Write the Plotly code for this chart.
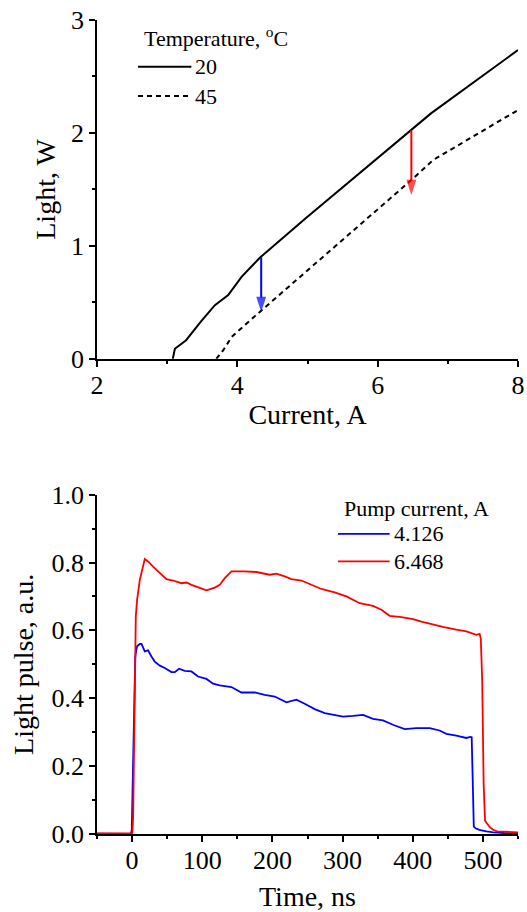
import plotly.graph_objects as go

# ---------------- Top panel: light vs current ----------------
current_20 = [3.08, 3.11, 3.27, 3.48, 3.68, 3.87, 4.06, 4.32, 4.97, 6.48, 6.76, 8.0]
light_20 = [0.0, 0.09, 0.165, 0.33, 0.475, 0.564, 0.726, 0.895, 1.243, 2.025, 2.173, 2.734]
current_45 = [3.70, 3.80, 3.92, 4.32, 6.48, 6.79, 8.0]
light_45 = [0.0, 0.077, 0.195, 0.416, 1.583, 1.76, 2.203]
temp_title = "Temperature, <sup>o</sup>C"
temp_labels = ["20", "45"]

arrow_x = [4.34, 6.48]
arrow_from = [0.90, 2.025]
arrow_to = [0.415, 1.45]
arrow_colors = ["#0000ff", "#ff0000"]

# ---------------- Bottom panel: light pulse vs time ----------------
time_blue = [-50, -30, -10, -2, -0.5, 1.4, 3.0, 4.5, 5.3, 7.1, 11.0, 13.4, 18.1, 22.8, 27.6, 32.3,
             39.5, 46.6, 56.1, 60.8, 67.0, 75.1, 84.6, 94.0, 106.0, 115.4, 124.9, 136.8,
             141.6, 155.8, 174.8, 189.0, 203.3, 219.9, 234.2, 246.0, 260.3, 274.5, 288.7,
             300.6, 314.8, 329.1, 343.3, 357.5, 371.8, 388.5, 405.1, 424.1, 438.3, 447.9,
             462.1, 476.4, 482.0, 484.0, 485.0, 486.0, 487.0, 490.0, 495.0, 505.0, 515.0,
             530.0, 550.0]
pulse_blue = [0.001, 0.0, 0.001, 0.0, 0.01, 0.25, 0.45, 0.52, 0.533, 0.553, 0.560, 0.560, 0.538,
              0.541, 0.523, 0.508, 0.496, 0.489, 0.477, 0.477, 0.487, 0.481, 0.479, 0.464,
              0.457, 0.443, 0.438, 0.435, 0.433, 0.417, 0.417, 0.410, 0.405, 0.388, 0.396,
              0.384, 0.368, 0.356, 0.351, 0.346, 0.348, 0.351, 0.339, 0.335, 0.322, 0.309,
              0.312, 0.312, 0.305, 0.295, 0.290, 0.283, 0.286, 0.285, 0.20, 0.05, 0.022,
              0.016, 0.012, 0.008, 0.005, 0.003, 0.002]

time_red = [-50, -30, -10, 0.0, 0.5, 1.5, 3.1, 4.3, 5.3, 7.1, 11.0, 18.1, 22.8, 29.9, 39.5, 49.0,
            58.4, 70.4, 77.5, 84.6, 96.4, 106.0, 117.8, 124.9, 132.1, 141.6, 160.5, 177.2,
            196.2, 205.7, 217.5, 227.1, 241.3, 255.6, 269.8, 288.7, 305.4, 324.4, 343.3,
            355.3, 367.1, 383.8, 400.3, 412.3, 424.1, 443.0, 462.1, 476.4, 490.6, 495.3,
            497.0, 499.0, 501.0, 503.0, 505.0, 510.0, 515.0, 520.0, 530.0, 540.0, 550.0]
pulse_red = [0.002, 0.001, 0.002, 0.002, 0.003, 0.05, 0.248, 0.50, 0.641, 0.690, 0.749, 0.810,
             0.803, 0.788, 0.769, 0.751, 0.747, 0.739, 0.741, 0.734, 0.725, 0.718, 0.726,
             0.734, 0.754, 0.774, 0.774, 0.772, 0.764, 0.767, 0.759, 0.751, 0.747, 0.734,
             0.722, 0.712, 0.700, 0.680, 0.672, 0.661, 0.643, 0.639, 0.633, 0.626, 0.619,
             0.610, 0.602, 0.597, 0.587, 0.590, 0.575, 0.45, 0.15, 0.04, 0.033, 0.02, 0.012,
             0.008, 0.007, 0.006, 0.005]
pump_title = "Pump current, A"
pump_labels = ["4.126", "6.468"]

FONT = "Liberation Serif"
BLACK = "black"

fig = go.Figure()

fig.add_trace(go.Scatter(x=current_20, y=light_20, mode="lines", name=temp_labels[0],
                         line=dict(color=BLACK, width=2), xaxis="x", yaxis="y"))
fig.add_trace(go.Scatter(x=current_45, y=light_45, mode="lines", name=temp_labels[1],
                         line=dict(color=BLACK, width=2, dash="5px,4px"), xaxis="x", yaxis="y"))

fig.add_trace(go.Scatter(x=time_blue, y=pulse_blue, mode="lines", name=pump_labels[0],
                         line=dict(color="#0000ff", width=1.8), xaxis="x2", yaxis="y2"))
fig.add_trace(go.Scatter(x=time_red, y=pulse_red, mode="lines", name=pump_labels[1],
                         line=dict(color="#ff0000", width=1.8), xaxis="x2", yaxis="y2"))

# Temperature-drop arrows
for xa, y0, y1, c in zip(arrow_x, arrow_from, arrow_to, arrow_colors):
    fig.add_trace(go.Scatter(x=[xa, xa], y=[y0, y1], mode="lines+markers",
                             line=dict(color=c, width=2),
                             marker=dict(symbol="arrow", angleref="previous", size=[0, 16],
                                         color=c, line=dict(width=0)),
                             xaxis="x", yaxis="y", hoverinfo="skip"))

# ---------------- Legends (drawn as keys + real text) ----------------
def legend_block(title, labels, styles, x_left, key_len, y_title, y_rows):
    fig.add_annotation(xref="paper", yref="paper", x=x_left + 0.009, y=y_title, text=title,
                       showarrow=False, xanchor="left", yanchor="middle",
                       font=dict(family=FONT, size=22, color=BLACK))
    for lab, st, yy in zip(labels, styles, y_rows):
        fig.add_shape(type="line", xref="paper", yref="paper", x0=x_left, x1=x_left + key_len,
                      y0=yy, y1=yy, line=st)
        fig.add_annotation(xref="paper", yref="paper", x=x_left + key_len + 0.005, y=yy,
                           text=lab, showarrow=False, xanchor="left", yanchor="middle",
                           font=dict(family=FONT, size=22, color=BLACK))

legend_block(temp_title, temp_labels,
             [dict(color=BLACK, width=2), dict(color=BLACK, width=2, dash="5px,4px")],
             0.0974, 0.1268, 0.979, [0.9426, 0.9066])
legend_block(pump_title, pump_labels,
             [dict(color="#0000ff", width=1.8), dict(color="#ff0000", width=1.8)],
             0.5723, 0.1228, 0.4001, [0.3688, 0.3348])

axis_common = dict(showgrid=False, zeroline=False, showline=True, linecolor=BLACK,
                   linewidth=1.5, ticks="outside", ticklen=6, tickwidth=1.5, tickcolor=BLACK,
                   automargin=False,
                   tickfont=dict(family=FONT, size=26, color=BLACK))
minor_common = dict(ticklen=3, tickwidth=1.5, ticks="outside", tickcolor=BLACK, showgrid=False)

fig.update_layout(
    width=527, height=912, autosize=False,
    margin=dict(l=97.3, r=8.6, t=20, b=77.7),
    paper_bgcolor="white", plot_bgcolor="white",
    font=dict(family=FONT, color=BLACK),
    showlegend=False,
    xaxis=dict(domain=[0, 1], anchor="y", range=[2, 8], tick0=2, dtick=2,
               minor=dict(dtick=1, **minor_common), ticklabelstandoff=-4,
               title=dict(text="Current, A", font=dict(family=FONT, size=28), standoff=6),
               **axis_common),
    yaxis=dict(domain=[0.5837, 1], anchor="x", range=[0, 3], tick0=0, dtick=1,
               minor=dict(dtick=0.5, **minor_common),
               title=dict(text="Light, W", font=dict(family=FONT, size=28), standoff=7),
               **axis_common),
    xaxis2=dict(domain=[0, 1], anchor="y2", range=[-50, 550], tick0=0, dtick=100,
                minor=dict(dtick=50, **minor_common), ticklabelstandoff=-4,
                title=dict(text="Time, ns", font=dict(family=FONT, size=28), standoff=14),
                **axis_common),
    yaxis2=dict(domain=[0, 0.4169], anchor="x2", range=[0, 1], tick0=0, dtick=0.2,
                tickformat=".1f", minor=dict(dtick=0.1, **minor_common),
                title=dict(text="Light pulse, a.u.", font=dict(family=FONT, size=28), standoff=10),
                **axis_common),
)

fig.write_html("out.html")
